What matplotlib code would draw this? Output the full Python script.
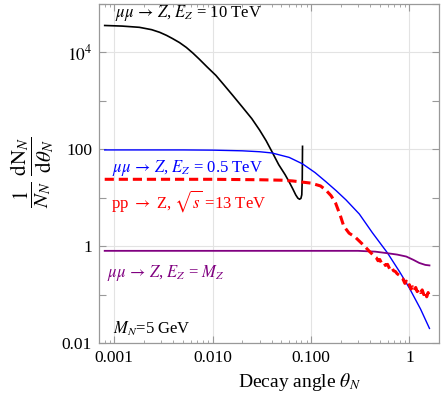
import matplotlib
matplotlib.use("Agg")
import matplotlib.pyplot as plt
from matplotlib.ticker import FixedLocator, FixedFormatter, LogLocator, NullFormatter

plt.rcParams['font.family'] = ['Liberation Serif', 'DejaVu Serif']
plt.rcParams['mathtext.fontset'] = 'stix'

# curves (theta_N, 1/N dN/dtheta)
black_x = [0.0008, 0.0012, 0.0018, 0.0024, 0.0029, 0.0034, 0.0039, 0.0046, 0.0054, 0.0063,
           0.0073, 0.0088, 0.0108, 0.013, 0.016, 0.020, 0.025, 0.030, 0.035,
           0.040, 0.047, 0.0545, 0.0597, 0.065, 0.070, 0.0735, 0.0765, 0.0790, 0.0806,
           0.0815, 0.0820]
black_y = [3.6e4, 3.5e4, 3.3e4, 2.95e4, 2.6e4, 2.25e4, 1.94e4, 1.6e4, 1.27e4, 9700,
           7300, 5000, 3350, 2150, 1300, 750, 430, 250, 150,
           90, 48, 30, 21.6, 15.5, 11.4, 9.8, 9.3, 9.7, 11.5,
           25, 115]

blue_x = [0.0008, 0.005, 0.01, 0.02, 0.03, 0.04, 0.06, 0.082, 0.11, 0.141, 0.18,
          0.227, 0.31, 0.42, 0.6, 0.8, 1.0, 1.3, 1.6]
blue_y = [97, 97, 96, 93, 89, 84, 68, 50, 33, 21.6, 14,
          9.0, 4.6, 1.9, 0.72, 0.29, 0.136, 0.05, 0.020]

red_x = [0.0008, 0.01, 0.03, 0.05, 0.065, 0.1, 0.125, 0.141, 0.16, 0.178, 0.2, 0.215,
         0.244, 0.28, 0.31, 0.35, 0.39, 0.44,
         0.46, 0.48, 0.50, 0.52, 0.55, 0.57, 0.60, 0.63, 0.66, 0.69, 0.72, 0.75,
         0.79, 0.82, 0.86, 0.90, 0.93, 0.97, 1.00, 1.04, 1.08, 1.12, 1.16, 1.20,
         1.25, 1.30, 1.35, 1.40, 1.45, 1.50, 1.55, 1.60]
red_y = [24, 24, 23.5, 23, 22.2, 20, 17.5, 14.5, 11, 7.7, 4.1, 2.6,
         1.85, 1.55, 1.27, 1.0, 0.79, 0.62,
         0.58, 0.50, 0.53, 0.45, 0.47, 0.40, 0.42, 0.34, 0.37, 0.31, 0.30, 0.27,
         0.25, 0.22, 0.21, 0.17, 0.19, 0.15, 0.16, 0.13, 0.145, 0.12, 0.14, 0.115,
         0.13, 0.11, 0.125, 0.10, 0.115, 0.09, 0.11, 0.095]

purple_x = [0.0008, 0.1, 0.2, 0.3, 0.45, 0.58, 0.75, 0.93, 1.1, 1.26, 1.45, 1.6]
purple_y = [0.80, 0.80, 0.80, 0.80, 0.77, 0.72, 0.67, 0.61, 0.52, 0.45, 0.41, 0.40]

x_ticks = [0.001, 0.01, 0.1, 1]
x_ticklabels = ['0.001', '0.010', '0.100', '1']
y_ticks = [0.01, 0.1, 1, 10, 100, 1000, 1e4, 1e5]
y_ticklabels = ['0.01', '', '1', '', '100', '', '$10^4$', '']

fig = plt.figure(figsize=(4.45, 3.99), dpi=100)
ax = fig.add_axes([99 / 445, 56 / 399, 340 / 445, 339 / 399])

ax.plot(black_x, black_y, color='black', lw=1.2)
ax.plot(blue_x, blue_y, color='#0000ff', lw=1.0)
ax.plot(purple_x, purple_y, color='#800080', lw=1.3)
ax.plot(red_x, red_y, color='#ff0000', lw=2.2, dashes=(3, 1.6))

ax.set_xscale('log')
ax.set_yscale('log')
ax.set_xlim(7e-4, 2.0)
ax.set_ylim(0.01, 1e5)

ax.xaxis.set_major_locator(FixedLocator(x_ticks))
ax.xaxis.set_major_formatter(FixedFormatter(x_ticklabels))
ax.xaxis.set_minor_locator(LogLocator(base=10, subs=range(2, 10)))
ax.xaxis.set_minor_formatter(NullFormatter())
ax.yaxis.set_major_locator(FixedLocator(y_ticks))
ax.yaxis.set_major_formatter(FixedFormatter(y_ticklabels))
ax.yaxis.set_minor_locator(FixedLocator([]))

ax.tick_params(which='both', direction='in', top=True, right=True, color='#999999',
               labelsize=12.5, pad=5)
ax.tick_params(which='major', length=5, width=0.8)
ax.tick_params(which='minor', length=2.5, width=0.6)
for s in ax.spines.values():
    s.set_color('#999999')
    s.set_linewidth(0.9)

for v in x_ticks:
    ax.axvline(v, color='#e3e3e3', lw=0.8, zorder=0)
for v in [0.01, 1, 100, 1e4]:
    ax.axhline(v, color='#e3e3e3', lw=0.8, zorder=0)

fs = 12
ax.text(0.047, 0.962, r'$\mu\mu\,\rightarrow\,Z$, $E_Z$ = 10 TeV', transform=ax.transAxes,
        color='black', fontsize=fs, va='baseline')
ax.text(0.037, 0.5035, r'$\mu\mu\,\rightarrow\,Z$, $E_Z$ = 0.5 TeV', transform=ax.transAxes,
        color='#0000ff', fontsize=fs, va='baseline')
ax.text(0.034, 0.400, r'pp $\rightarrow$ Z, $\sqrt{s}$ =13 TeV', transform=ax.transAxes,
        color='#ff0000', fontsize=fs, va='baseline')
ax.text(0.023, 0.196, r'$\mu\mu\,\rightarrow\,Z$, $E_Z$ = $M_Z$', transform=ax.transAxes,
        color='#800080', fontsize=fs, va='baseline')
ax.text(0.042, 0.0265, r'$M_N$=5 GeV', transform=ax.transAxes,
        color='black', fontsize=fs, va='baseline')

fig.text(32 / 445, 1 - 172 / 399,
         r'$\dfrac{1}{N_N}\ \dfrac{\mathrm{dN}_N}{\mathrm{d}\theta_N}$',
         rotation=90, ha='center', va='center', fontsize=15)
fig.text(300 / 445, 1 - 382 / 399, r'Decay angle $\theta_N$', ha='center', va='center',
         fontsize=14)

fig.savefig('out.png', dpi=100)
